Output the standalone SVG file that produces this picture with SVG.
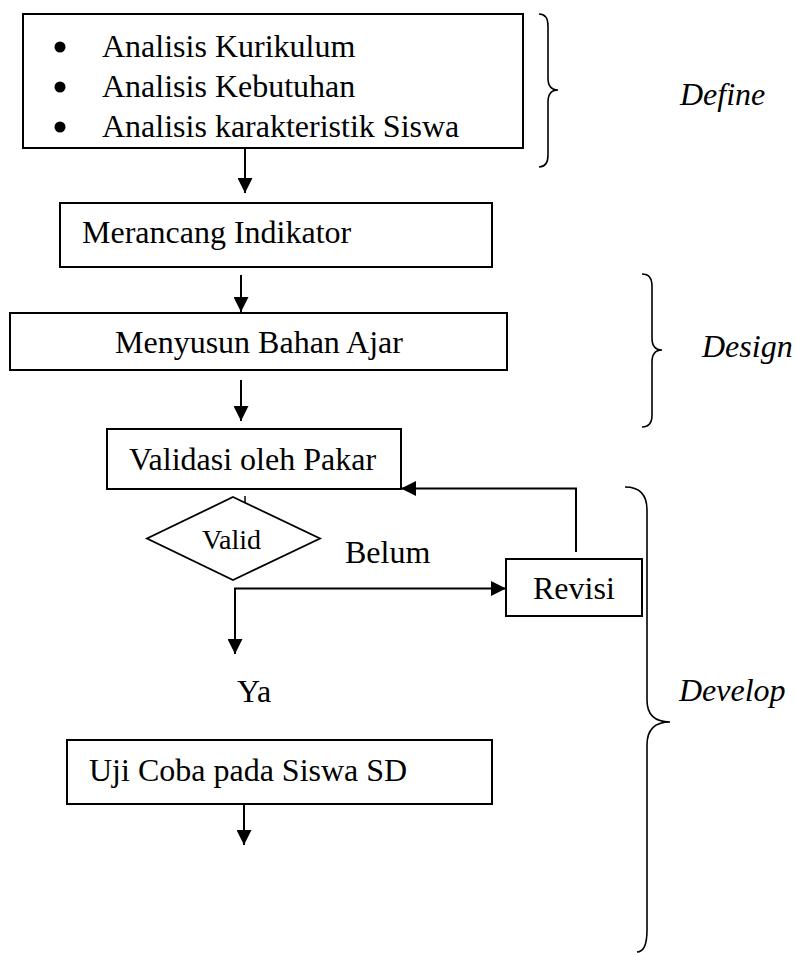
<svg xmlns="http://www.w3.org/2000/svg" width="796" height="953" viewBox="0 0 796 953">
<defs>
<style>
.box{fill:#fff;stroke:#000;stroke-width:2}
.t{font-family:"Liberation Serif","Times New Roman",serif;font-size:32px;fill:#000}
.it{font-style:italic}
.ln{fill:none;stroke:#000;stroke-width:2}
.br{fill:none;stroke:#000;stroke-width:1.6}
</style>
<marker id="ah" viewBox="0 0 16 16" refX="16" refY="8" markerWidth="16" markerHeight="15" markerUnits="userSpaceOnUse" orient="auto">
<path d="M0,0 L16,8 L0,16 z" fill="#000"/>
</marker>
</defs>
<rect width="796" height="953" fill="#fff"/>
<g id="define-box">
<rect class="box" x="23" y="14" width="500" height="134"/>
<circle cx="60" cy="47" r="5.5"/>
<circle cx="60" cy="87" r="5.5"/>
<circle cx="60" cy="127" r="5.5"/>
<text class="t" x="102" y="57">Analisis Kurikulum</text>
<text class="t" x="102" y="97">Analisis Kebutuhan</text>
<text class="t" x="102" y="137">Analisis karakteristik Siswa</text>
</g>
<g id="merancang">
<rect class="box" x="60" y="203" width="432" height="64"/>
<text class="t" x="82" y="243">Merancang Indikator</text>
</g>
<g id="menyusun">
<rect class="box" x="10" y="313" width="497" height="57"/>
<text class="t" x="115" y="353">Menyusun Bahan Ajar</text>
</g>
<g id="validasi">
<rect class="box" x="107" y="429" width="294" height="60"/>
<text class="t" x="129" y="470">Validasi oleh Pakar</text>
</g>
<g id="valid">
<polygon points="233,497 320,538.5 233,580 147,538.5" fill="#fff" stroke="#000" stroke-width="1.8"/>
<text class="t" x="202" y="549" style="font-size:28px">Valid</text>
</g>
<g id="revisi">
<rect class="box" x="506" y="559" width="136" height="57"/>
<text class="t" x="533" y="599">Revisi</text>
</g>
<g id="ujicoba">
<rect class="box" x="67" y="740" width="425" height="64"/>
<text class="t" x="89" y="781">Uji Coba pada Siswa SD</text>
</g>
<g id="labels">
<text class="t" x="345" y="563">Belum</text>
<text class="t" x="237" y="702">Ya</text>
</g>
<g id="phases">
<path class="br" d="M539,14 Q548,14 548,26 L548,78 Q548,90 558,90 Q548,90 548,102 L548,155 Q548,167 539,167"/>
<text class="t it" x="680" y="105">Define</text>
<path class="br" d="M642,274 Q652,274 652,286 L652,338 Q652,350 662,350 Q652,350 652,362 L652,415 Q652,427 642,427"/>
<text class="t it" x="702" y="357">Design</text>
<path class="br" d="M625,487 Q647,487 647,510 L647,700 Q647,722 670,722 Q647,722 647,745 L647,930 Q647,952 637,952"/>
<text class="t it" x="679" y="701">Develop</text>
</g>
<g id="connectors">
<line class="ln" x1="245" y1="148" x2="245" y2="193" marker-end="url(#ah)"/>
<line class="ln" x1="241" y1="275" x2="241" y2="312" marker-end="url(#ah)"/>
<line class="ln" x1="241" y1="380" x2="241" y2="421" marker-end="url(#ah)"/>
<line class="ln" x1="245" y1="496" x2="245" y2="503" style="stroke-width:1.5"/>
<polyline class="ln" points="235,654 235,588.5 506,588.5" marker-end="url(#ah)"/>
<line class="ln" x1="235" y1="600" x2="235" y2="654" marker-end="url(#ah)"/>
<polyline class="ln" points="576,552 576,488.5 401,488.5" marker-end="url(#ah)"/>
<line class="ln" x1="244" y1="804" x2="244" y2="845" marker-end="url(#ah)"/>
</g>
</svg>
